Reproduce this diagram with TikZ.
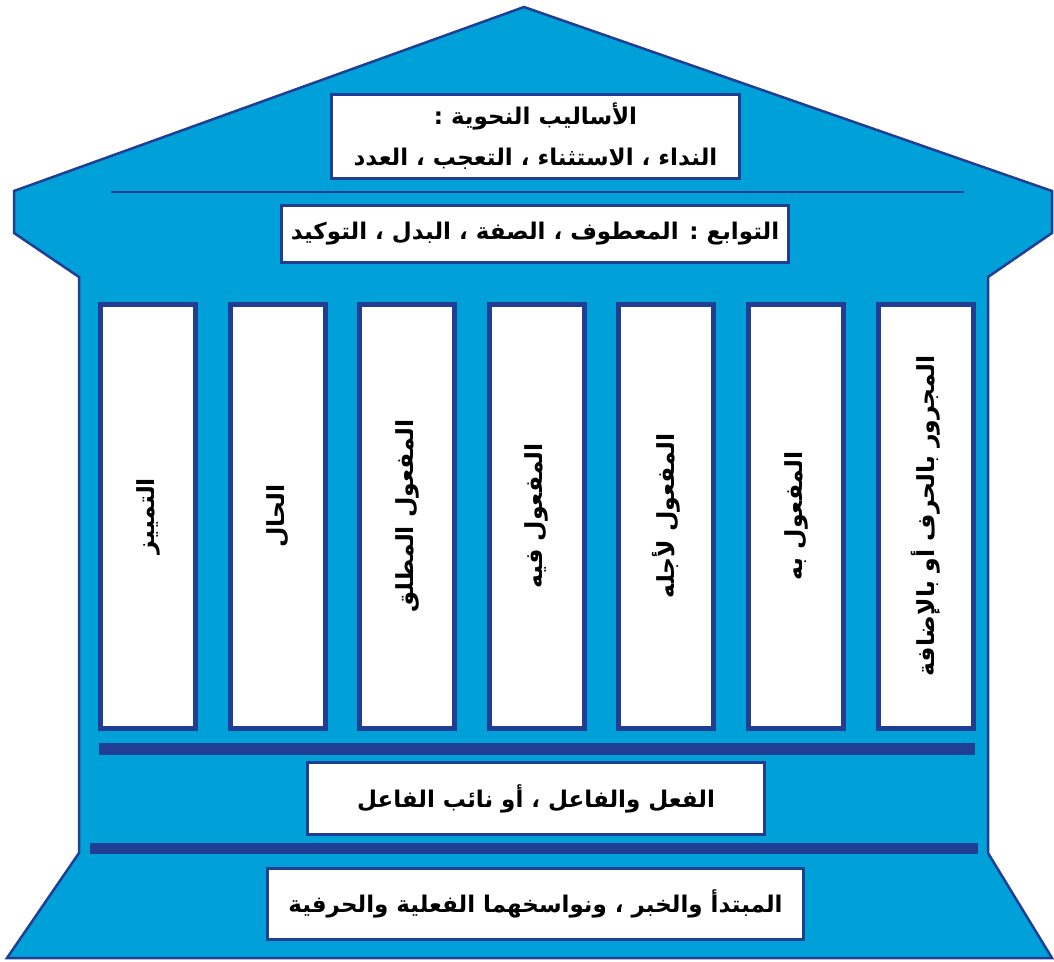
\documentclass[tikz,border=0pt]{standalone}
\usepackage{fontspec}
\usepackage{tikz}
\newfontfamily\arabicfont[Script=Arabic]{DejaVu Sans}
\TeXXeTstate=1
\definecolor{roofblue}{RGB}{0,161,217}
\definecolor{navy}{RGB}{31,62,148}
\newcommand{\artext}[1]{{\arabicfont\bfseries\beginR #1\endR}}

\begin{document}
\begin{tikzpicture}[x=1pt,y=-1pt,
    box/.style={draw=navy,line width=3pt,fill=white,inner sep=0pt,
      font=\fontsize{23}{27}\selectfont},
    pillar/.style={draw=navy,line width=5pt,fill=white,inner sep=0pt,
      minimum width=424pt,minimum height=95pt,rotate=90,
      font=\fontsize{23.5}{27}\selectfont}]
          \useasboundingbox (0,0) rectangle (1054,961);
          % building outline
          \draw[navy,line width=2.5pt,fill=roofblue,line join=miter]
            (524,7) -- (1052,191) -- (1052,233) -- (988,277) -- (988,853)
            -- (1052,958) -- (7,958) -- (79,853) -- (79,277) -- (14,233)
            -- (14,191) -- cycle;
          \draw[navy,line width=2.5pt] (111,192) -- (964,192);
          \fill[navy] (99,743) rectangle (975,755);
          \fill[navy] (90,843) rectangle (978,854);
          % roof
          \node[box,minimum width=408pt,minimum height=84pt,align=center] (asalib)
            at (535.5,136.5) {\artext{الأساليب النحوية :}\\[14pt]\artext{النداء ، الاستثناء ، التعجب ، العدد}};
          \node[box,minimum width=507pt,minimum height=57pt] (tawabi)
            at (535,234) {\artext{التوابع : المعطوف ، الصفة ، البدل ، التوكيد}};
          % pillars
          \node[pillar] (tamyiz) at (148,516) {\artext{التمييز}};
          \node[pillar] (hal) at (278,516) {\artext{الحال}};
          \node[pillar] (mutlaq) at (407,516) {\artext{المفعول المطلق}};
          \node[pillar] (fihi) at (536.5,516) {\artext{المفعول فيه}};
          \node[pillar] (liajlihi) at (666,516) {\artext{المفعول لأجله}};
          \node[pillar] (bihi) at (796,516) {\artext{المفعول به}};
          \node[pillar] (majrur) at (926,516) {\artext{المجرور بالحرف أو بالإضافة}};
          % floors
          \node[box,minimum width=457pt,minimum height=72pt] (fiil)
            at (536,798.5) {\artext{الفعل والفاعل ، أو نائب الفاعل}};
          \node[box,minimum width=536pt,minimum height=71pt] (mubtada)
            at (535.5,904) {\artext{المبتدأ والخبر ، ونواسخهما الفعلية والحرفية}};
        \end{tikzpicture}
\end{document}
